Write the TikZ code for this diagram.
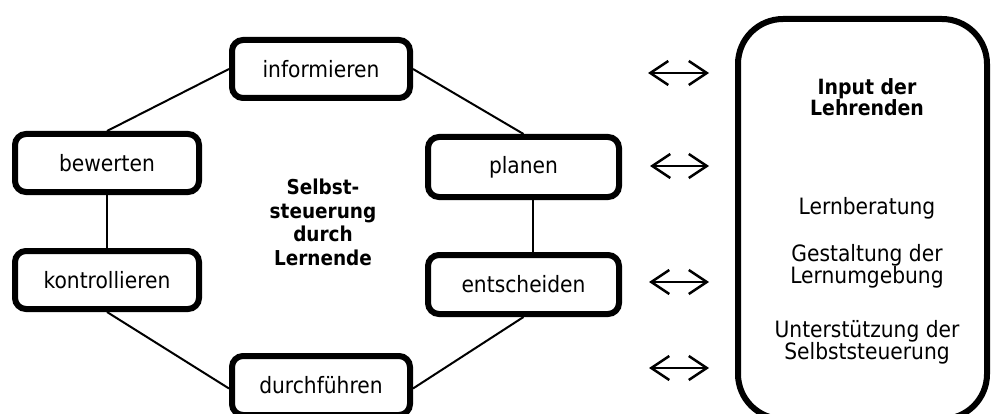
\documentclass[tikz,border=0pt]{standalone}
\usepackage{fontspec}
\setmainfont{DejaVu Sans Condensed}
\usetikzlibrary{arrows.meta}
\begin{document}
\begin{tikzpicture}[x=1pt,y=-1pt,
  stepbox/.style={draw, line width=6pt, rounded corners=11pt, inner sep=0pt,
    font=\fontsize{22.5}{26}\selectfont, fill=white},
  link/.style={line width=2pt},
  both/.style={line width=2pt, {Straight Barb[length=18pt,width=24pt,line width=2.5pt]}-{Straight Barb[length=18pt,width=24pt,line width=2.5pt]}},
  boldtext/.style={font=\fontsize{20.5}{23.7}\selectfont\bfseries, align=center, inner sep=0pt},
  plaintext/.style={font=\fontsize{22.5}{22}\selectfont, align=center, inner sep=0pt}]
\useasboundingbox (0,0) rectangle (992,414);

% step boxes
\node[stepbox, minimum width=178pt, minimum height=58pt] (inf) at (321,69) {informieren};
\node[stepbox, minimum width=184pt, minimum height=58pt] (bew) at (107,163) {bewerten};
\node[stepbox, minimum width=184pt, minimum height=58pt] (kon) at (107,280) {kontrollieren};
\node[stepbox, minimum width=191pt, minimum height=60pt] (pla) at (523.5,167) {planen};
\node[stepbox, minimum width=191pt, minimum height=59pt] (ent) at (523.5,284.5) {entscheiden};
\node[stepbox, minimum width=178pt, minimum height=59pt] (dur) at (321,385.5) {durchführen};

% connectors
\draw[link] (inf.west) -- (bew.north);
\draw[link] (inf.east) -- (pla.north);
\draw[link] (bew.south) -- (kon.north);
\draw[link] ([xshift=9pt]pla.south) -- ([xshift=9pt]ent.north);
\draw[link] (kon.south) -- ([yshift=-3pt]dur.west);
\draw[link] (ent.south) -- ([yshift=-3pt]dur.east);

% centre label
\node[boldtext] (self) at (323,222.5) {Selbst-\\steuerung\\durch\\Lernende};

% right box
\node[draw, line width=6pt, rounded corners=45pt, minimum width=249pt, minimum height=400pt, inner sep=0pt] (lehr) at (862.5,219) {};
\node[boldtext, font=\fontsize{21}{21}\selectfont\bfseries] (inp) at (867,97) {Input der\\Lehrenden};
\node[plaintext] (lb) at (867,208) {Lernberatung};
\node[plaintext] (gl) at (867,266) {Gestaltung der\\Lernumgebung};
\node[plaintext] (us) at (867,342.5) {Unterstützung der\\Selbststeuerung};

% double arrows
\coordinate (a1l) at (648,73);  \coordinate (a1r) at (709,73);
\coordinate (a2l) at (650,166); \coordinate (a2r) at (709,166);
\coordinate (a3l) at (649,282); \coordinate (a3r) at (709,282);
\coordinate (a4l) at (649,368); \coordinate (a4r) at (709,368);
\draw[both] (a1l) -- (a1r);
\draw[both] (a2l) -- (a2r);
\draw[both] (a3l) -- (a3r);
\draw[both] (a4l) -- (a4r);
\end{tikzpicture}
\end{document}
